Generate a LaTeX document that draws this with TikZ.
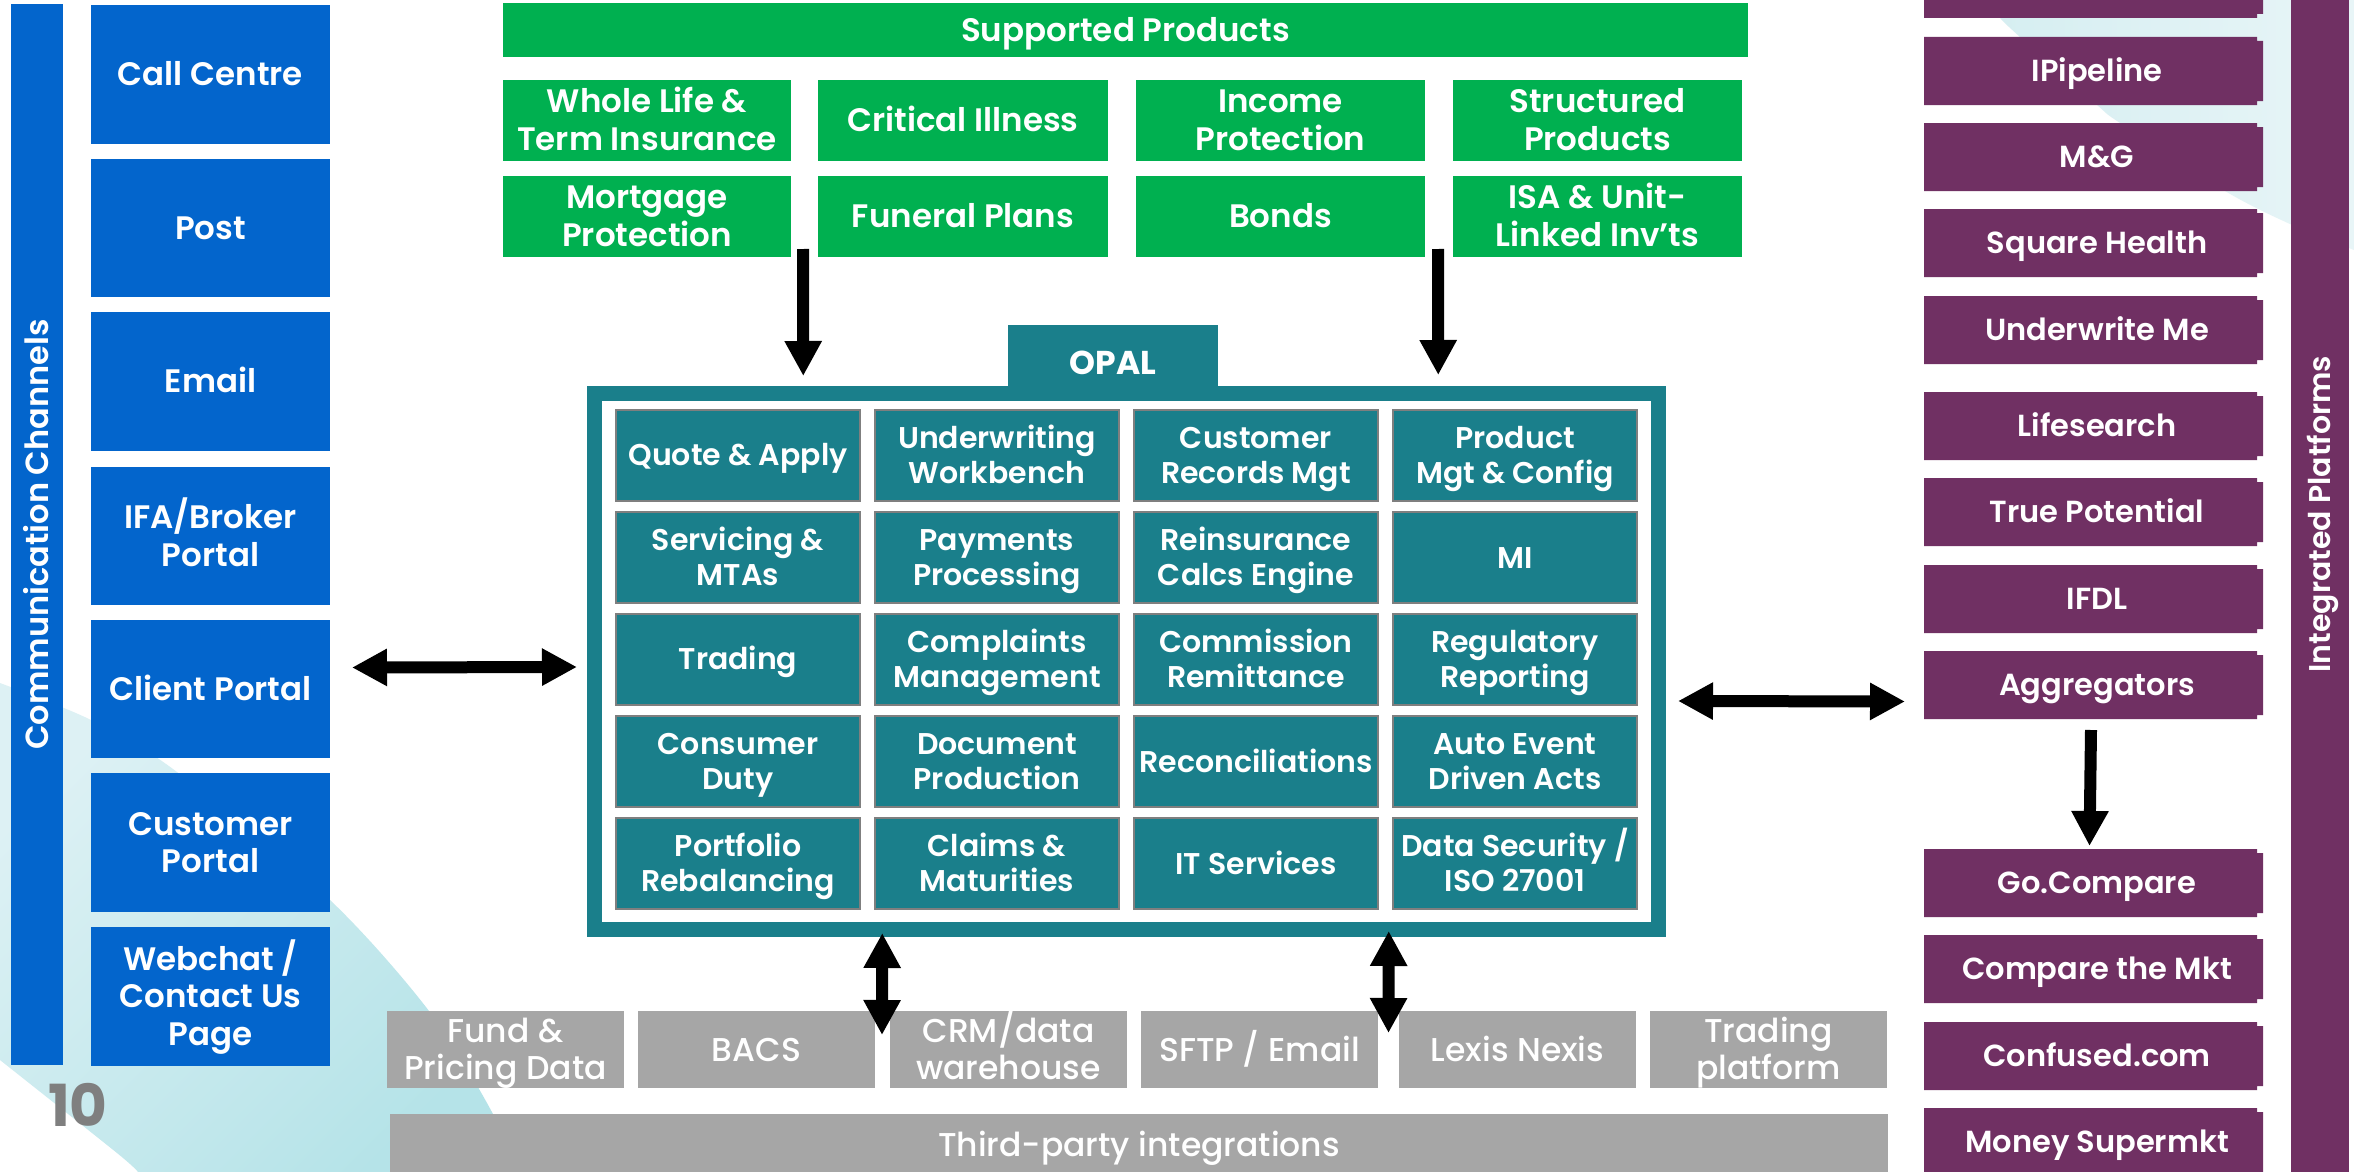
\documentclass[tikz,border=0pt]{standalone}
\usepackage{fontspec}
\setmainfont{Poppins}[UprightFont=* SemiBold,BoldFont=* Bold]
\newfontfamily\medfont{Poppins}[UprightFont=* Medium]
\usetikzlibrary{arrows.meta}
\definecolor{blu}{HTML}{0365CC}
\definecolor{pur}{HTML}{703063}
\definecolor{tea}{HTML}{1A7F8B}
\definecolor{grn}{HTML}{00B050}
\definecolor{gry}{HTML}{A6A6A6}
\definecolor{cellb}{HTML}{7F7F7F}
\definecolor{swa}{HTML}{DDF1F4}
\definecolor{swb}{HTML}{B5E3E8}
\definecolor{swc}{HTML}{D5EEF1}
\definecolor{swd}{HTML}{E8F5F7}
\tikzset{
  base/.style 2 args={inner sep=0pt,outer sep=0pt,text=white,align=center,font=\fontsize{#1}{#2}\selectfont},
  bluebox/.style={base={32.5}{37.5},fill=blu},
  greenbox/.style={base={32.5}{38},fill=grn},
  graybox/.style={inner sep=0pt,outer sep=0pt,text=white,align=center,font=\medfont\fontsize{33}{37}\selectfont,fill=gry},
  cellbox/.style={base={30}{35},fill=tea,draw=cellb,line width=2.5pt},
  purplabel/.style={base={30.5}{35}},
  dblarrow/.style={line width=12pt,{Triangle[length=35pt,width=35pt]}-{Triangle[length=35pt,width=35pt]}},
  sglarrow/.style={line width=12pt,-{Triangle[length=35pt,width=35pt]}},
}
% struts that centre the capitals of the text in its box
\newcommand\topstrut{\vrule height .95em depth 0pt width 0pt}
\newcommand\botstrut{\vrule height 0pt depth .25em width 0pt}
% \rbox{style}{name}{x0}{y0}{x1}{y1}{text}
\newcommand\rbox[7]{\node[#1,minimum width={(#5-#3)*1pt},minimum height={(#6-#4)*1pt}] (#2) at ({(#3+#5)/2},{(#4+#6)/2}) {\topstrut #7\botstrut};}
% \pbox{name}{y0}{y1}{text}: purple box with the small step at its right edge
\newcommand\pbox[4]{%
  \fill[pur] (1924,#2) -- (2257,#2) -- (2257,#2+4) -- (2263,#2+4) -- (2263,#3-4) -- (2257,#3-4) -- (2257,#3) -- (1924,#3) -- cycle;
  \rbox{purplabel}{#1}{1931}{#2}{2263}{#3}{#4}}
\begin{document}
\begin{tikzpicture}[x=1pt,y=-1pt]
\useasboundingbox (0,0) rectangle (2354,1172);
\fill[white] (0,0) rectangle (2354,1172);
% background swooshes
\shade[left color=swa,right color=swb,shading angle=45]
  plot[smooth] coordinates {(0,683) (91,720) (177,772) (330,900) (429,1011) (493,1114) (515,1172)}
  -- (138,1172) -- plot[smooth] coordinates {(138,1172) (117,1153) (0,1060)} -- cycle;
\shade[left color=swc,right color=swd]
  plot[smooth] coordinates {(1985,0) (2000,18) (2020,37) (2097,105) (2120,123) (2225,191) (2290,224) (2354,250)}
  -- (2354,0) -- cycle;
% communication channels
\node[base={32}{37},fill=blu,rotate=90,minimum width=1061pt,minimum height=52pt] (comm) at (37,534.5) {\topstrut Communication Channels\botstrut};
\rbox{bluebox}{call}{91}{5}{330}{144}{Call Centre}
\rbox{bluebox}{post}{91}{159}{330}{297}{Post}
\rbox{bluebox}{email}{91}{312}{330}{451}{Email}
\rbox{bluebox}{ifa}{91}{467}{330}{605}{IFA/Broker\\Portal}
\rbox{bluebox}{client}{91}{620}{330}{758}{Client Portal}
\rbox{bluebox}{customer}{91}{773}{330}{912}{Customer\\Portal}
\rbox{bluebox}{webchat}{91}{927}{330}{1066}{Webchat /\\Contact Us\\Page}
\node[base={56}{60},text=cellb,font=\fontsize{58}{60}\selectfont\bfseries] (pageno) at (78,1105) {10};
% supported products
\rbox{greenbox}{supported}{503}{3}{1748}{57}{Supported Products}
\rbox{greenbox}{whole}{503}{80}{791}{161}{Whole Life \&\\Term Insurance}
\rbox{greenbox}{critical}{818}{80}{1108}{161}{Critical Illness}
\rbox{greenbox}{income}{1136}{80}{1425}{161}{Income\\Protection}
\rbox{greenbox}{structured}{1453}{80}{1742}{161}{Structured\\Products}
\rbox{greenbox}{mortgage}{503}{176}{791}{257}{Mortgage\\Protection}
\rbox{greenbox}{funeral}{818}{176}{1108}{257}{Funeral Plans}
\rbox{greenbox}{bonds}{1136}{176}{1425}{257}{Bonds}
\rbox{greenbox}{isa}{1453}{176}{1742}{257}{ISA \& Unit-\\Linked Inv’ts}
% OPAL
\node[draw=tea,fill=white,line width=15pt,inner sep=0pt,outer sep=0pt,minimum width=1063.5pt,minimum height=536pt] (frame) at (1126.25,661.5) {};
\rbox{base={33}{37},fill=tea,font=\fontsize{33}{37}\selectfont\bfseries}{opal}{1008}{325}{1218}{401}{OPAL}
\rbox{cellbox}{c11}{616}{410}{860}{501}{Quote \& Apply}
\rbox{cellbox}{c12}{875}{410}{1119}{501}{Underwriting\\Workbench}
\rbox{cellbox}{c13}{1134}{410}{1378}{501}{Customer\\Records Mgt}
\rbox{cellbox}{c14}{1393}{410}{1637}{501}{Product\\Mgt \& Config}
\rbox{cellbox}{c21}{616}{512}{860}{603}{Servicing \&\\MTAs}
\rbox{cellbox}{c22}{875}{512}{1119}{603}{Payments\\Processing}
\rbox{cellbox}{c23}{1134}{512}{1378}{603}{Reinsurance\\Calcs Engine}
\rbox{cellbox}{c24}{1393}{512}{1637}{603}{MI}
\rbox{cellbox}{c31}{616}{614}{860}{705}{Trading}
\rbox{cellbox}{c32}{875}{614}{1119}{705}{Complaints\\Management}
\rbox{cellbox}{c33}{1134}{614}{1378}{705}{Commission\\Remittance}
\rbox{cellbox}{c34}{1393}{614}{1637}{705}{Regulatory\\Reporting}
\rbox{cellbox}{c41}{616}{716}{860}{807}{Consumer\\Duty}
\rbox{cellbox}{c42}{875}{716}{1119}{807}{Document\\Production}
\rbox{cellbox}{c43}{1134}{716}{1378}{807}{Reconciliations}
\rbox{cellbox}{c44}{1393}{716}{1637}{807}{Auto Event\\Driven Acts}
\rbox{cellbox}{c51}{616}{818}{860}{909}{Portfolio\\Rebalancing}
\rbox{cellbox}{c52}{875}{818}{1119}{909}{Claims \&\\Maturities}
\rbox{cellbox}{c53}{1134}{818}{1378}{909}{IT Services}
\rbox{cellbox}{c54}{1393}{818}{1637}{909}{Data Security /\\ISO 27001}
% third party
\rbox{graybox}{fund}{387}{1011}{624}{1088}{Fund \&\\Pricing Data}
\rbox{graybox}{bacs}{638}{1011}{875}{1088}{BACS}
\rbox{graybox}{crm}{890}{1011}{1127}{1088}{CRM/data\\warehouse}
\rbox{graybox}{sftp}{1141}{1011}{1378}{1088}{SFTP / Email}
\rbox{graybox}{lexis}{1399}{1011}{1636}{1088}{Lexis Nexis}
\rbox{graybox}{trading}{1650}{1011}{1887}{1088}{Trading\\platform}
\rbox{graybox}{third}{390}{1114}{1888}{1177}{Third-party integrations}
% integrated platforms
\node[base={30}{35},fill=pur,rotate=90,minimum width=1172pt,minimum height=58pt] (platbar) at (2320,586) {};
\node[base={30}{35},rotate=90] (platlabel) at (2320,514) {\topstrut Integrated Platforms\botstrut};
\pbox{first}{-50}{18}{}
\pbox{ipipeline}{37}{105}{IPipeline}
\pbox{mg}{123}{191}{M\&G}
\pbox{square}{209}{277}{Square Health}
\pbox{underwrite}{296}{364}{Underwrite Me}
\pbox{lifesearch}{392}{460}{Lifesearch}
\pbox{truepot}{478}{546}{True Potential}
\pbox{ifdl}{565}{633}{IFDL}
\pbox{aggregators}{651}{719}{Aggregators}
\pbox{gocompare}{849}{917}{Go.Compare}
\pbox{comparemkt}{935}{1003}{Compare the Mkt}
\pbox{confused}{1022}{1090}{Confused.com}
\pbox{money}{1108}{1176}{Money Supermkt}
% connectors
\draw[sglarrow] ([shift={(12,-8)}]mortgage.south east) -- ([shift={(-323,-17.5)}]frame.north);
\draw[sglarrow] ([shift={(13,-8)}]bonds.south east) -- ([shift={(312,-18.5)}]frame.north);
\draw[dblarrow] ([shift={(22,-21.5)}]client.east) -- ([shift={(-17.5,5.5)}]frame.west);
\draw[dblarrow] ([shift={(20,39.5)}]frame.east) -- ([shift={(-26,16.5)}]aggregators.west);
\draw[dblarrow] ([shift={(-244,3.5)}]frame.south) -- ([shift={(-8,24)}]crm.north west);
\draw[dblarrow] ([shift={(262.5,1.5)}]frame.south) -- ([shift={(-10.5,22)}]lexis.north west);
\draw[sglarrow] ([shift={(-6,11)}]aggregators.south) -- ([shift={(-7.5,-3)}]gocompare.north);
\end{tikzpicture}
\end{document}
